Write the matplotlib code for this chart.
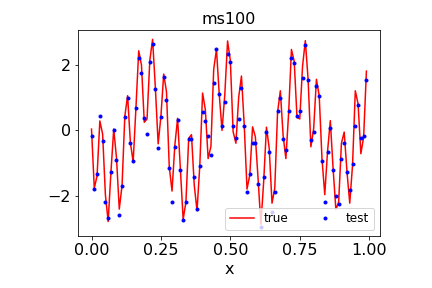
import matplotlib
matplotlib.use("Agg")
import matplotlib.pyplot as plt
import numpy as np

# valores (100 muestras, x = 0.00 .. 0.99)
x = np.arange(100) / 100

true_vals = [0.03, -1.77, -1.40, 0.28, -0.12, -1.97, -2.79, -1.28, 0.03, -0.85,
             -2.41, -1.69, 0.43, 1.05, -0.38, -0.97, 0.68, 2.42, 1.98, 0.24,
             0.34, 2.13, 2.77, 1.29, -0.42, 0.43, 1.71, 1.17, -1.12, -1.86,
             -0.47, 0.36, -1.18, -2.72, -2.20, -0.25, -0.14, -1.68, -2.46, -1.08,
             1.13, 0.62, -0.87, -0.50, 1.85, 2.47, 1.09, -0.01, 1.08, 2.72,
             2.12, -0.05, -0.40, 1.00, 1.65, 0.15, -1.80, -1.37, 0.10, -0.20,
             -1.50, -2.88, -1.57, 0.09, -0.56, -2.23, -1.77, 0.54, 1.20, -0.16,
             -0.87, 0.54, 2.46, 2.10, 0.39, 0.34, 1.95, 2.73, 1.55, -0.51,
             0.04, 1.55, 1.05, -0.87, -1.97, -0.65, 0.29, -1.17, -2.42, -2.20,
             -0.40, -0.06, -1.27, -2.23, -1.07, 1.20, 0.80, -0.72, -0.21, 1.80]

test_vals = [-0.18, -1.81, -1.33, 0.42, -0.33, -2.18, -2.69, -1.27, 0.00, -0.91,
             -2.60, -1.72, 0.39, 0.97, -0.39, -0.94, 0.66, 2.21, 1.75, 0.36,
             -0.12, 2.08, 2.63, 1.24, -0.54, 0.39, 1.63, 0.91, -1.15, -2.20,
             -0.51, 0.31, -1.21, -2.73, -2.18, -0.27, -0.27, -1.44, -2.42, -1.08,
             0.55, 0.27, -0.18, -0.76, 1.45, 2.48, 1.09, 0.12, 0.86, 2.33,
             2.08, 0.12, -0.24, 0.33, 1.30, 0.12, -1.90, -1.33, -0.39, -0.39,
             -1.63, -2.95, -1.42, -0.06, -0.66, -2.50, -1.90, 0.57, 0.97, -0.26,
             -0.60, 0.58, 2.20, 2.05, 0.42, 0.58, 1.60, 2.60, 1.54, -0.30,
             -0.06, 1.36, 1.03, -0.94, -2.20, -0.66, 0.06, -1.21, -2.02, -2.26,
             -0.88, -0.39, -1.27, -1.84, -1.03, 0.12, 0.76, -0.24, -0.18, 1.54]

fig, ax = plt.subplots(figsize=(6, 4), dpi=72)
fig.subplots_adjust(left=0.18, right=0.88, bottom=0.18, top=0.896)

ax.plot(x, true_vals, "r-", label="true")
ax.plot(x, test_vals, "b.", label="test")

ax.set_title("ms100", fontsize=16)
ax.set_xlabel("x", fontsize=16)
ax.tick_params(labelsize=16)
ax.set_xticks([0.0, 0.25, 0.5, 0.75, 1.0])
ax.legend(loc="lower right", ncol=2, fontsize=12)

fig.savefig("out.png")
